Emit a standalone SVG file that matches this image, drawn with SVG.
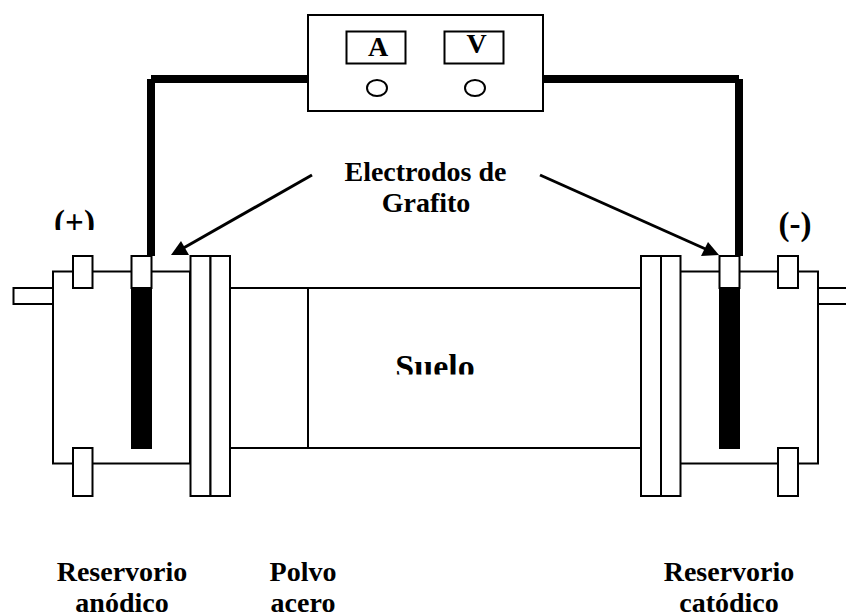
<svg xmlns="http://www.w3.org/2000/svg" width="846" height="615" viewBox="0 0 846 615">
<style>
.s{fill:#fff;stroke:#000;stroke-width:2}
.l{fill:none;stroke:#000;stroke-width:2}
.w{fill:none;stroke:#000;stroke-width:8}
.a{stroke:#000;stroke-width:3;fill:none}
.b{fill:#000}
.o{fill:#fff;stroke:#000;stroke-width:2}
text{font-family:"Liberation Serif","Times New Roman",serif;font-weight:bold;font-size:28px;text-anchor:middle;fill:#000}
.big{font-size:33px}
.su{font-size:34px}
</style>
<defs>
<marker id="hl" markerUnits="userSpaceOnUse" markerWidth="20" markerHeight="16" refX="9" refY="9" orient="0"><path d="M0 14L10 0L18 14Z" fill="#000"/></marker>
<marker id="hr" markerUnits="userSpaceOnUse" markerWidth="20" markerHeight="16" refX="9" refY="9" orient="0"><path d="M0 14L7 0L18 13Z" fill="#000"/></marker>
<clipPath id="c1"><rect x="30" y="190" width="90" height="40"/></clipPath>
<clipPath id="c2"><rect x="380" y="340" width="110" height="34.500"/></clipPath>
</defs>
<rect width="846" height="615" fill="#fff"/>
<g id="soil-cell">
<path class="l" d="M230 288H641M230 448H641M308 288V448"/>
<text class="su" x="435" y="378" clip-path="url(#c2)">Suelo</text>
</g>
<g id="left-reservoir">
<rect class="s" x="13.500" y="288" width="40" height="16"/>
<rect class="s" x="53" y="271.500" width="137" height="192"/>
<rect class="s" x="73" y="256" width="19.500" height="32"/>
<rect class="s" x="73" y="448" width="19.500" height="48"/>
<rect class="s" x="190.500" y="256" width="20" height="240"/>
<rect class="s" x="210.500" y="256" width="19.500" height="240"/>
<rect class="b" x="131" y="288" width="21" height="161"/>
<rect class="s" x="131.500" y="256" width="20" height="32"/>
</g>
<g id="right-reservoir">
<rect class="s" x="680" y="271.500" width="138" height="192"/>
<rect class="s" x="818" y="288" width="30" height="16"/>
<rect class="s" x="778" y="256" width="20" height="32"/>
<rect class="s" x="778" y="448" width="20" height="48"/>
<rect class="s" x="641" y="256" width="20" height="240"/>
<rect class="s" x="661" y="256" width="19.500" height="240"/>
<rect class="b" x="719" y="288" width="21" height="161"/>
<rect class="s" x="719.500" y="256" width="20" height="32"/>
</g>
<g id="meter">
<rect class="s" x="308" y="15" width="235" height="96"/>
<rect class="s" x="346.500" y="31.500" width="59" height="32"/>
<rect class="s" x="444.500" y="31.500" width="59" height="32"/>
<ellipse class="o" cx="377" cy="88" rx="10" ry="8"/>
<ellipse class="o" cx="475" cy="88" rx="10" ry="8"/>
<text x="378" y="56">A</text>
<text x="476.500" y="53">V</text>
</g>
<g id="connectors">
<path class="w" d="M151 256V79M151 79H308"/>
<path class="w" d="M739 256V79M739 79H543"/>
<line class="a" x1="312" y1="175" x2="180" y2="250" marker-end="url(#hl)"/>
<line class="a" x1="540" y1="175" x2="710" y2="251" marker-end="url(#hr)"/>
</g>
<g id="labels">
<text class="big" x="74.500" y="233" clip-path="url(#c1)">(+)</text>
<text class="big" x="795" y="235">(-)</text>
<text x="425.500" y="180.500">Electrodos de</text>
<text x="426" y="212">Grafito</text>
<text x="122" y="581">Reservorio</text>
<text x="122" y="612">anódico</text>
<text x="303" y="581">Polvo</text>
<text x="303" y="612">acero</text>
<text x="729" y="581">Reservorio</text>
<text x="729" y="612">catódico</text>
</g>
</svg>
